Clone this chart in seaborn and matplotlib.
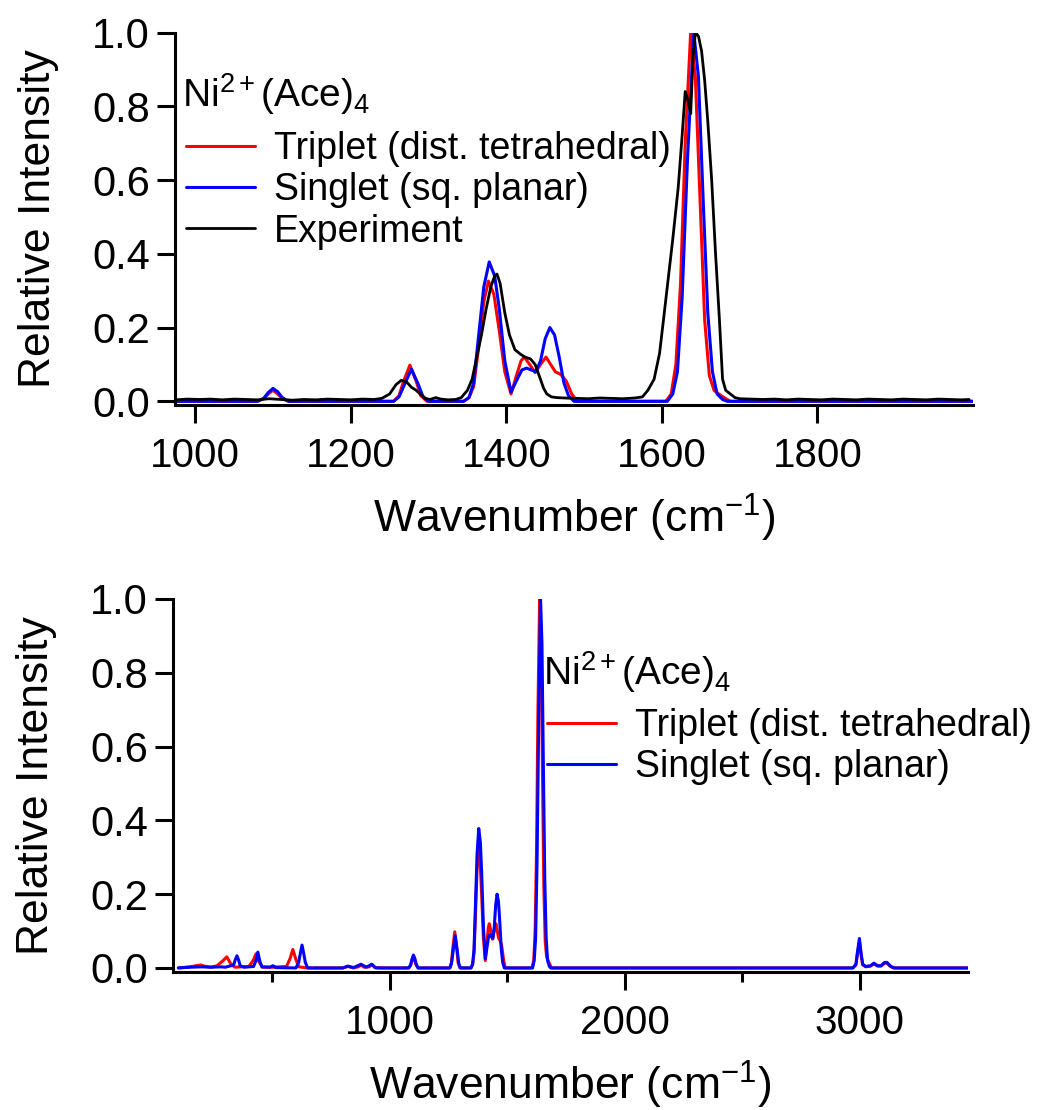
import numpy as np
import pandas as pd
import matplotlib
matplotlib.use("Agg")
import matplotlib.pyplot as plt
import seaborn as sns
from matplotlib.ticker import MultipleLocator

# ---------------- data ----------------
# Triplet (dist. tetrahedral) computed spectrum
TRIP_WN = [100, 150, 175, 195, 215, 240, 265, 290, 306, 322, 340, 400, 418, 430, 442, 458,
           500, 560, 575, 587, 599, 612, 650, 800, 821, 845, 865, 877, 890, 912, 923, 936,
           970, 1080, 1088, 1094, 1100, 1106, 1112, 1120, 1255, 1262, 1268, 1276, 1284, 1290,
           1298, 1345, 1352, 1358, 1364, 1371, 1377, 1384, 1391, 1398, 1406, 1413, 1419, 1423,
           1430, 1437, 1444, 1451, 1457, 1463, 1470, 1477, 1484, 1491, 1605, 1612, 1618, 1624,
           1630, 1637, 1643, 1649, 1655, 1661, 1667, 1673, 1680, 1688, 2970, 2983, 2990, 2998,
           3005, 3012, 3025, 3045, 3060, 3075, 3090, 3105, 3115, 3130, 3145, 3460]
TRIP_I = [0.0, 0.003, 0.006, 0.008, 0.004, 0.002, 0.006, 0.020, 0.030, 0.012, 0.002, 0.004, 0.020, 0.038, 0.018, 0.002,
          0.002, 0.004, 0.025, 0.050, 0.025, 0.003, 0.0, 0.0, 0.004, 0.0, 0.003, 0.008, 0.002, 0.003, 0.009, 0.001,
          0.0, 0.0, 0.007, 0.020, 0.030, 0.020, 0.007, 0.0, 0.0, 0.015, 0.055, 0.098, 0.055, 0.015,
          0.0, 0.0, 0.010, 0.040, 0.140, 0.270, 0.326, 0.290, 0.190, 0.080, 0.020, 0.070, 0.110, 0.120,
          0.100, 0.078, 0.100, 0.120, 0.100, 0.080, 0.073, 0.055, 0.020, 0.0, 0.0, 0.020, 0.100, 0.320,
          0.700, 1.0, 0.880, 0.550, 0.220, 0.070, 0.030, 0.020, 0.010, 0.0, 0.0, 0.008, 0.040, 0.070,
          0.035, 0.008, 0.003, 0.005, 0.011, 0.005, 0.005, 0.013, 0.013, 0.004, 0.0, 0.0]

# Singlet (sq. planar) computed spectrum
SING_WN = [100, 150, 200, 240, 280, 300, 335, 342, 349, 356, 363, 380, 420, 430, 438, 446, 455,
           490, 502, 515, 600, 612, 619, 626, 633, 640, 650, 800, 821, 845, 877, 900, 923, 940,
           1080, 1088, 1094, 1100, 1106, 1112, 1120, 1255, 1262, 1270, 1278, 1286, 1293, 1300,
           1345, 1352, 1358, 1364, 1371, 1378, 1385, 1391, 1398, 1406, 1414, 1420, 1426, 1432,
           1438, 1444, 1450, 1456, 1462, 1468, 1474, 1480, 1487, 1607, 1614, 1620, 1626, 1633,
           1641, 1647, 1653, 1659, 1665, 1671, 1678, 1684, 2970, 2983, 2990, 2998, 3005, 3012,
           3025, 3045, 3060, 3075, 3090, 3105, 3115, 3130, 3145, 3460]
SING_I = [0.0, 0.002, 0.003, 0.002, 0.003, 0.002, 0.008, 0.022, 0.033, 0.022, 0.006, 0.002, 0.004, 0.020, 0.043, 0.020, 0.003,
          0.002, 0.006, 0.001, 0.0, 0.015, 0.040, 0.062, 0.040, 0.015, 0.0, 0.0, 0.005, 0.001, 0.010, 0.002, 0.010, 0.0,
          0.0, 0.008, 0.024, 0.035, 0.026, 0.010, 0.0, 0.0, 0.012, 0.050, 0.087, 0.050, 0.012, 0.0,
          0.0, 0.010, 0.050, 0.170, 0.310, 0.378, 0.340, 0.250, 0.110, 0.025, 0.060, 0.085, 0.090, 0.085,
          0.080, 0.110, 0.170, 0.200, 0.180, 0.120, 0.050, 0.015, 0.0, 0.0, 0.020, 0.080, 0.280, 0.660,
          1.0, 0.880, 0.550, 0.240, 0.080, 0.020, 0.005, 0.0, 0.0, 0.010, 0.045, 0.080, 0.040, 0.010,
          0.004, 0.006, 0.013, 0.006, 0.006, 0.015, 0.015, 0.005, 0.0, 0.0]

# Experiment (measured spectrum, top panel only)
EXP_WN = [975, 990, 1005, 1020, 1035, 1050, 1065, 1080, 1095, 1110, 1125, 1140, 1155, 1170, 1185,
          1200, 1215, 1230, 1240, 1250, 1258, 1265, 1272, 1278, 1284, 1290, 1296, 1302, 1309, 1316,
          1325, 1335, 1342, 1350, 1356, 1362, 1368, 1374, 1380, 1385, 1388, 1392, 1398, 1404, 1411,
          1418, 1424, 1431, 1437, 1443, 1448, 1452, 1458, 1465, 1475, 1490, 1505, 1520, 1535, 1550,
          1565, 1575, 1582, 1590, 1597, 1602, 1608, 1614, 1621, 1626, 1630, 1633, 1637, 1640, 1643,
          1647, 1651, 1655, 1659, 1664, 1669, 1674, 1678, 1682, 1688, 1694, 1700, 1715, 1730, 1745,
          1760, 1775, 1790, 1805, 1820, 1835, 1850, 1865, 1880, 1895, 1910, 1925, 1940, 1955, 1970, 1985, 1995]
EXP_I = [0.004, 0.006, 0.005, 0.006, 0.004, 0.006, 0.005, 0.004, 0.007, 0.005, 0.003, 0.005, 0.004, 0.006, 0.005,
         0.004, 0.006, 0.005, 0.008, 0.020, 0.045, 0.057, 0.052, 0.038, 0.030, 0.018, 0.008, 0.005, 0.010, 0.006,
         0.004, 0.005, 0.010, 0.030, 0.060, 0.120, 0.180, 0.250, 0.310, 0.340, 0.345, 0.320, 0.240, 0.180, 0.140,
         0.128, 0.120, 0.115, 0.100, 0.065, 0.035, 0.020, 0.012, 0.010, 0.009, 0.008, 0.007, 0.009, 0.008, 0.007,
         0.009, 0.012, 0.030, 0.060, 0.130, 0.220, 0.330, 0.440, 0.580, 0.720, 0.840, 0.820, 0.780, 0.930, 1.0,
         0.990, 0.950, 0.870, 0.760, 0.600, 0.400, 0.220, 0.060, 0.030, 0.020, 0.010, 0.007, 0.006, 0.005, 0.006,
         0.004, 0.006, 0.005, 0.004, 0.006, 0.005, 0.004, 0.006, 0.005, 0.004, 0.006, 0.005, 0.004, 0.006, 0.005, 0.004, 0.005]

LEGEND_TITLE = "Ni$^{2+}$(Ace)$_4$"
LABEL_TRIP = "Triplet (dist. tetrahedral)"
LABEL_SING = "Singlet (sq. planar)"
LABEL_EXP = "Experiment"
XLABEL = "Wavenumber (cm$^{-1}$)"
YLABEL = "Relative Intensity"
TOP_XTICKS = [1000, 1200, 1400, 1600, 1800]
BOTTOM_XTICKS = [1000, 2000, 3000]
YTICKS = [0.0, 0.2, 0.4, 0.6, 0.8, 1.0]

# ---------------- style ----------------
sns.set_theme(style="ticks")
plt.rcParams["font.family"] = ["Liberation Sans", "DejaVu Sans"]
plt.rcParams["mathtext.fontset"] = "custom"
plt.rcParams["mathtext.rm"] = "Liberation Sans"
plt.rcParams["mathtext.it"] = "Liberation Sans:italic"
plt.rcParams["mathtext.default"] = "regular"
plt.rcParams["text.color"] = "black"
plt.rcParams["axes.labelcolor"] = "black"

XTICK_FS = 29
YTICK_FS = 30
LABEL_FS = 32
LEG_FS = 27
TITLE_FS = 28
RED = "#ff0000"
BLUE = "#0000ff"
BLACK = "#000000"

trip = pd.DataFrame({"wn": TRIP_WN, "I": TRIP_I})
sing = pd.DataFrame({"wn": SING_WN, "I": SING_I})
expt = pd.DataFrame({"wn": EXP_WN, "I": EXP_I})

W, H = 1053, 1110
fig = plt.figure(figsize=(W / 100, H / 100), dpi=100)
ax1 = fig.add_axes([175 / W, 1 - 405 / H, 798 / W, (405 - 32.5) / H])
ax2 = fig.add_axes([173 / W, 1 - 972 / H, 795 / W, (972 - 599) / H])


def style_axes(ax):
    for s in ["top", "right"]:
        ax.spines[s].set_visible(False)
    for s in ["left", "bottom"]:
        ax.spines[s].set_linewidth(2.2)
        ax.spines[s].set_color("black")
    ax.tick_params(axis="both", which="major", direction="out", length=13, width=2.2, colors="black")
    ax.tick_params(axis="x", which="major", labelsize=XTICK_FS, pad=10)
    ax.tick_params(axis="y", which="major", labelsize=YTICK_FS, pad=5)
    ax.tick_params(axis="both", which="minor", direction="out", length=7, width=2.2, colors="black")
    ax.set_yticks(YTICKS)
    ax.set_yticklabels([f"{v:.1f}" for v in YTICKS])
    ax.set_xlabel(XLABEL, fontsize=LABEL_FS, color="black", labelpad=12)
    ax.set_ylabel(YLABEL, fontsize=LABEL_FS, color="black", labelpad=24)
    ax.grid(False)
    ax.set_facecolor("white")


def add_legend(ax, title_xy, legend_xy):
    ax.text(title_xy[0] / W, 1 - title_xy[1] / H, LEGEND_TITLE, transform=fig.transFigure,
            fontsize=TITLE_FS, color="black", ha="left", va="baseline")
    ax.legend(loc="upper left", bbox_to_anchor=(legend_xy[0] / W, 1 - legend_xy[1] / H),
              bbox_transform=fig.transFigure, frameon=False, fontsize=LEG_FS,
              handlelength=1.85, handletextpad=0.5, labelspacing=0.14,
              borderpad=0, borderaxespad=0, labelcolor="black")


# ----- top panel -----
sns.lineplot(data=trip, x="wn", y="I", ax=ax1, color=RED, lw=2.2, label=LABEL_TRIP, estimator=None)
sns.lineplot(data=sing, x="wn", y="I", ax=ax1, color=BLUE, lw=2.2, label=LABEL_SING, estimator=None)
sns.lineplot(data=expt, x="wn", y="I", ax=ax1, color=BLACK, lw=2.0, label=LABEL_EXP, estimator=None)
ax1.set_xlim(974, 2000)
ax1.set_ylim(-0.01, 1.0)
style_axes(ax1)
ax1.set_xticks(TOP_XTICKS)
ax1.set_xticklabels([str(t) for t in TOP_XTICKS])
add_legend(ax1, (182, 107), (186, 131))

# ----- bottom panel -----
sns.lineplot(data=trip, x="wn", y="I", ax=ax2, color=RED, lw=2.2, label=LABEL_TRIP, estimator=None)
sns.lineplot(data=sing, x="wn", y="I", ax=ax2, color=BLUE, lw=2.2, label=LABEL_SING, estimator=None)
ax2.set_xlim(77, 3460)
ax2.set_ylim(-0.011, 1.0)
style_axes(ax2)
ax2.set_xticks(BOTTOM_XTICKS)
ax2.set_xticklabels([str(t) for t in BOTTOM_XTICKS])
ax2.xaxis.set_minor_locator(MultipleLocator(500))
add_legend(ax2, (543, 685), (547, 708))

fig.savefig("out.png", dpi=100, facecolor="white")
